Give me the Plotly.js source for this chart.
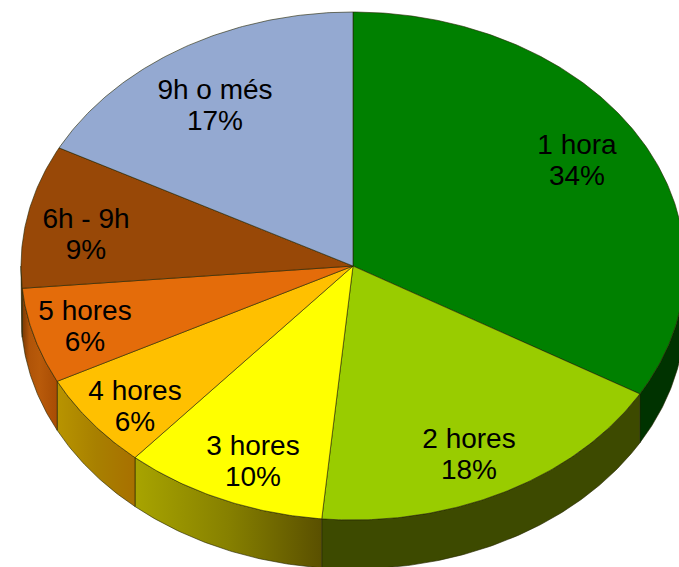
<!DOCTYPE html>
<html>
<head>
<meta charset="utf-8">
<script src="https://cdn.plot.ly/plotly-3.0.1.min.js"></script>
<style>html,body{margin:0;padding:0;background:#fff}#chart{width:679px;height:567px}</style>
</head>
<body>
<div id="chart"></div>
<script>
// Data
const categories = ['1 hora', '2 hores', '3 hores', '4 hores', '5 hores', '6h - 9h', '9h o més'];
const shares = [33.4, 18.1, 9.9, 6.1, 6.1, 9.1, 17.3];
const shareLabels = ['34%', '18%', '10%', '6%', '6%', '9%', '17%'];

// Styles
const topColors = ['#008000', '#99cc00', '#ffff00', '#ffc000', '#e46c0a', '#984807', '#94a9d1'];
const wallScales = [
  [[0, '#003300'], [1, '#003300']],
  [[0, '#3d4a00'], [1, '#3d4a00']],
  [[0, '#a8a400'], [0.5, '#868000'], [1, '#5a5000']],
  [[0, '#b89400'], [0.5, '#a88000'], [1, '#a87000']],
  [[0, '#7a3a04'], [0.2, '#b05408'], [0.5, '#b85a0a'], [1, '#a84c04']],
  [[0, '#5a2c04'], [1, '#70380a']],
  [[0, '#6a7a98'], [1, '#6a7a98']]
];

// Geometry of the tilted pie, in axis units
const cx = 353, cy = 266, rx = 332, ry = 254, depth = 49;
const labelAnchors = [[577, 159], [469, 453], [253, 460], [135, 405], [85, 325], [86, 233], [215, 104]];
const lineGap = 15.5;
const labelDrop = 3.5;
const edge = 'rgba(35,35,0,0.75)';

const total = shares.reduce((a, b) => a + b, 0);
const px = t => cx + rx * Math.sin(t);
const py = (t, dz) => cy - ry * Math.cos(t) + dz;
function arc(t0, t1, dz) {
  const n = Math.max(2, Math.ceil(Math.abs(t1 - t0) / 0.01));
  const xs = [], ys = [];
  for (let i = 0; i <= n; i++) {
    const t = t0 + (t1 - t0) * i / n;
    xs.push(px(t)); ys.push(py(t, dz));
  }
  return [xs, ys];
}

const walls = [], faces = [];
let acc = 0;
shares.forEach((v, i) => {
  const t0 = acc / total * 2 * Math.PI;
  acc += v;
  const t1 = acc / total * 2 * Math.PI;
  // Top face
  const [ax, ay] = arc(t0, t1, 0);
  faces.push({
    type: 'scatter', mode: 'lines', fill: 'toself', fillcolor: topColors[i],
    x: [cx, ...ax, cx], y: [cy, ...ay, cy],
    line: {color: edge, width: 0.8}, hoverinfo: 'skip', showlegend: false
  });
  // Front wall: only the part of the rim facing the viewer
  const w0 = Math.max(t0, Math.PI / 2), w1 = Math.min(t1, 3 * Math.PI / 2);
  if (w1 > w0) {
    const [ux, uy] = arc(w0, w1, 0);
    const [lx, ly] = arc(w1, w0, depth);
    walls.push({
      type: 'scatter', mode: 'lines', fill: 'toself',
      fillgradient: {type: 'horizontal', colorscale: wallScales[i]},
      x: [...ux, ...lx, ux[0]], y: [...uy, ...ly, uy[0]],
      line: {color: edge, width: 0.8}, hoverinfo: 'skip', showlegend: false
    });
  }
});

const textTrace = {
  type: 'scatter', mode: 'text', hoverinfo: 'skip', showlegend: false,
  x: labelAnchors.flatMap(p => [p[0], p[0]]),
  y: labelAnchors.flatMap(p => [p[1] + labelDrop - lineGap, p[1] + labelDrop + lineGap]),
  text: categories.flatMap((c, i) => [c, shareLabels[i]]),
  textposition: 'middle center',
  textfont: {family: '"Liberation Sans", Arial, sans-serif', size: 28, color: '#000'}
};

const layout = {
  width: 679, height: 567,
  margin: {l: 0, r: 0, t: 0, b: 0},
  paper_bgcolor: '#fff', plot_bgcolor: '#fff',
  showlegend: false,
  xaxis: {range: [0, 679], visible: false, fixedrange: true},
  yaxis: {range: [567, 0], visible: false, fixedrange: true}
};

Plotly.newPlot('chart', [...walls, ...faces, textTrace], layout, {displayModeBar: false, staticPlot: true});
</script>
</body>
</html>
